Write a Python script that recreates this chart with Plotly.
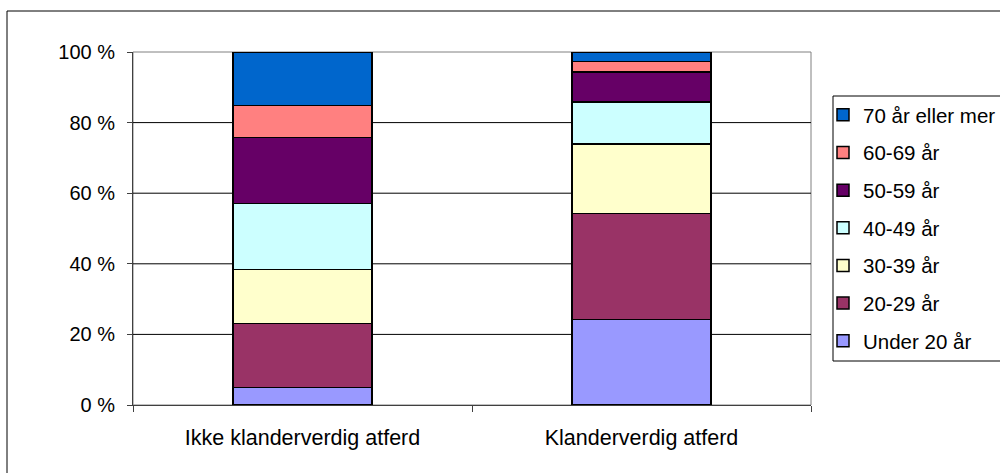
import plotly.graph_objects as go

# Age distribution per category (share of total, %)
categories = ["Ikke klanderverdig atferd", "Klanderverdig atferd"]
age_groups = ["Under 20 år", "20-29 år", "30-39 år", "40-49 år",
              "50-59 år", "60-69 år", "70 år eller mer"]
shares = {
    "Under 20 år":     [5.0, 24.2],
    "20-29 år":        [18.1, 30.0],
    "30-39 år":        [15.3, 19.8],
    "40-49 år":        [18.7, 11.8],
    "50-59 år":        [18.7, 8.5],
    "60-69 år":        [9.0, 3.0],
    "70 år eller mer": [15.2, 2.7],
}
colors = {
    "Under 20 år": "#9999FF",
    "20-29 år": "#993366",
    "30-39 år": "#FFFFCC",
    "40-49 år": "#CCFFFF",
    "50-59 år": "#660066",
    "60-69 år": "#FF8080",
    "70 år eller mer": "#0066CC",
}
y_ticks = [0, 20, 40, 60, 80, 100]
y_ticktext = ["0 %", "20 %", "40 %", "60 %", "80 %", "100 %"]

FONT = "Liberation Sans, Arial, sans-serif"
W, H = 1000, 473
L, R, T, B = 133, 189, 52, 68
pw, ph = W - L - R, H - T - B


def px_x(p):
    return (p - L) / pw


def px_y(p):
    return (H - B - p) / ph


fig = go.Figure()
for i, g in enumerate(age_groups):
    fig.add_trace(go.Bar(
        x=categories, y=shares[g], name=g, legendgroup=g,
        legendrank=1000 - i,
        marker=dict(color=colors[g], line=dict(color="#000000", width=1.5)),
        width=0.41,
    ))

shapes = []
# plot-area frame (grey top/right edges)
shapes.append(dict(type="rect", xref="paper", yref="paper", x0=0, x1=1, y0=0, y1=1,
                   line=dict(color="#808080", width=1), layer="below"))
# horizontal gridlines
for v in y_ticks[1:-1]:
    shapes.append(dict(type="line", xref="paper", yref="y", x0=0, x1=1, y0=v, y1=v,
                       line=dict(color="#000000", width=1), layer="below"))
# outer chart border
shapes.append(dict(type="rect", xref="paper", yref="paper",
                   x0=px_x(7), x1=px_x(1010), y0=px_y(490), y1=px_y(11),
                   line=dict(color="#000000", width=1), layer="below"))
# legend box
shapes.append(dict(type="rect", xref="paper", yref="paper",
                   x0=px_x(833), x1=px_x(1010), y0=px_y(361), y1=px_y(96),
                   line=dict(color="#000000", width=1), fillcolor="rgba(0,0,0,0)"))

fig.update_layout(
    width=W, height=H,
    margin=dict(l=L, r=R, t=T, b=B, pad=0, autoexpand=False),
    paper_bgcolor="#FFFFFF", plot_bgcolor="#FFFFFF",
    barmode="stack",
    font=dict(family=FONT, size=20, color="#000000"),
    shapes=shapes,
    showlegend=True,
    legend=dict(
        x=px_x(823), y=px_y(95), xanchor="left", yanchor="top",
        traceorder="grouped", tracegroupgap=8,
        bgcolor="rgba(0,0,0,0)", borderwidth=0,
        font=dict(family=FONT, size=20.5, color="#000000"),
    ),
    xaxis=dict(
        type="category", range=[-0.5, 1.5],
        showgrid=False, showline=True, linecolor="#404040", linewidth=1,
        ticks="outside", tickson="boundaries", ticklen=6, tickcolor="#404040",
        ticklabelstandoff=13,
        tickfont=dict(family=FONT, size=21.5, color="#000000"),
    ),
    yaxis=dict(
        range=[0, 100], tickvals=y_ticks, ticktext=y_ticktext,
        showgrid=False, zeroline=False,
        showline=True, linecolor="#404040", linewidth=1,
        ticks="outside", ticklen=5, tickcolor="#404040",
        ticklabelstandoff=8,
        tickfont=dict(family=FONT, size=20, color="#000000"),
    ),
)

fig.write_html("out.html")
